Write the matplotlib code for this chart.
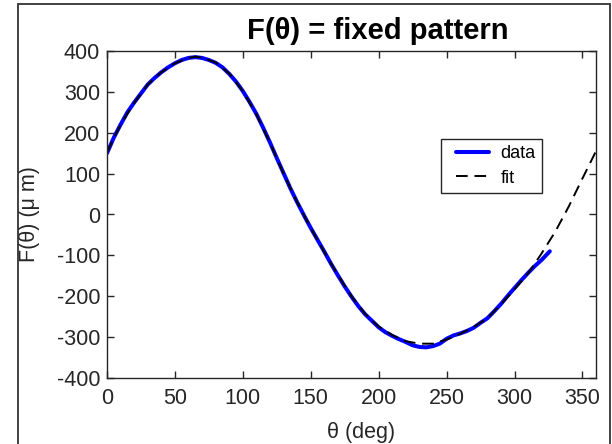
import matplotlib
matplotlib.use("Agg")
import matplotlib.pyplot as plt
from matplotlib.patches import Rectangle
from matplotlib.lines import Line2D
from matplotlib.legend_handler import HandlerLine2D

# measured profile (deg, um)
data_theta = [0, 5, 10, 15, 20, 25, 30, 35, 40, 45, 50, 55, 60, 65, 70, 75, 80,
              85, 90, 95, 100, 105, 110, 115, 120, 125, 130, 135, 140, 145, 150,
              155, 160, 165, 170, 175, 180, 185, 190, 195, 200, 205, 210, 215,
              220, 225, 230, 235, 240, 245, 250, 255, 260, 265, 270, 275, 280,
              285, 290, 295, 300, 305, 310, 315, 320, 326]
data_F = [150, 188, 220, 250, 274, 296, 318, 334, 348, 360, 370, 378, 383, 385,
          383, 378, 371, 360, 344, 325, 302, 275, 246, 212, 176, 138, 101, 64,
          30, -2, -33, -62, -91, -121, -149, -176, -201, -224, -244, -260, -276,
          -288, -297, -305, -312, -320, -324, -325, -322, -316, -304, -296, -291,
          -285, -277, -265, -254, -237, -219, -199, -180, -161, -143, -126, -111,
          -90]

# fitted curve (deg, um)
fit_theta = [0, 10, 20, 30, 40, 50, 60, 65, 70, 80, 90, 100, 110, 120, 130, 140,
             150, 160, 170, 180, 190, 200, 210, 220, 230, 240, 250, 260, 270,
             280, 290, 300, 310, 320, 330, 340, 350, 360]
fit_F = [152, 220, 273, 318, 348, 370, 383, 386, 384, 372, 345, 302, 245, 175,
         100, 30, -33, -92, -148, -200, -243, -274, -295, -310, -316, -316,
         -306, -292, -275, -254, -220, -183, -144, -95, -42, 20, 88, 155]

x_ticks = [0, 50, 100, 150, 200, 250, 300, 350]
y_ticks = [-400, -300, -200, -100, 0, 100, 200, 300, 400]

plt.rcParams['font.family'] = ['Liberation Sans', 'DejaVu Sans']
plt.rcParams['axes.unicode_minus'] = False
gray = '#262626'

W, H = 612, 444
fig = plt.figure(figsize=(W / 100, H / 100), dpi=100)
fig.patch.set_facecolor('white')
ax = fig.add_axes([107 / W, 1 - 378 / H, 489 / W, 327 / H])

ax.plot(data_theta, data_F, color='#0000ff', lw=2.9, label='data',
        solid_capstyle='round', solid_joinstyle='round')
ax.plot(fit_theta, fit_F, color='black', lw=1.4, ls=(0, (6, 3.5)), label='fit')

ax.set_xlim(0, 360)
ax.set_ylim(-400, 400)
ax.set_xticks(x_ticks)
ax.set_yticks(y_ticks)
ax.tick_params(direction='in', length=5, width=1.0, colors=gray,
               labelsize=15.5, top=True, right=True)
ax.tick_params(axis='x', pad=7.5)
ax.tick_params(axis='y', pad=5)
for sp in ax.spines.values():
    sp.set_color(gray)
    sp.set_linewidth(1.0)

ax.set_xlabel('θ (deg)', fontsize=15.5, color=gray)
ax.xaxis.set_label_coords(0.52, -0.135)
ax.set_ylabel('F(θ) (μ m)', fontsize=15.5, color=gray)
ax.yaxis.set_label_coords(-0.138, 0.5)

ax.set_title('F(θ) = fixed pattern', fontsize=21, fontweight='bold',
             color='black', x=0.554, pad=9)

inset = HandlerLine2D(numpoints=2, marker_pad=0.5)
leg = ax.legend(loc='upper left', bbox_to_anchor=(0.683, 0.731),
                fontsize=13, fancybox=False, framealpha=1,
                edgecolor=gray, handlelength=2.8, borderpad=0.35,
                labelspacing=0.4, handletextpad=0.15, borderaxespad=0,
                handler_map={Line2D: inset})
leg.get_frame().set_linewidth(1.0)

# outer frame around the figure
fig.add_artist(Rectangle((18 / W, -0.05), (610 - 18) / W, 1.05 - 4 / H,
                         transform=fig.transFigure, fill=False,
                         ec='#333333', lw=1.3))

fig.savefig('out.png', dpi=100)
